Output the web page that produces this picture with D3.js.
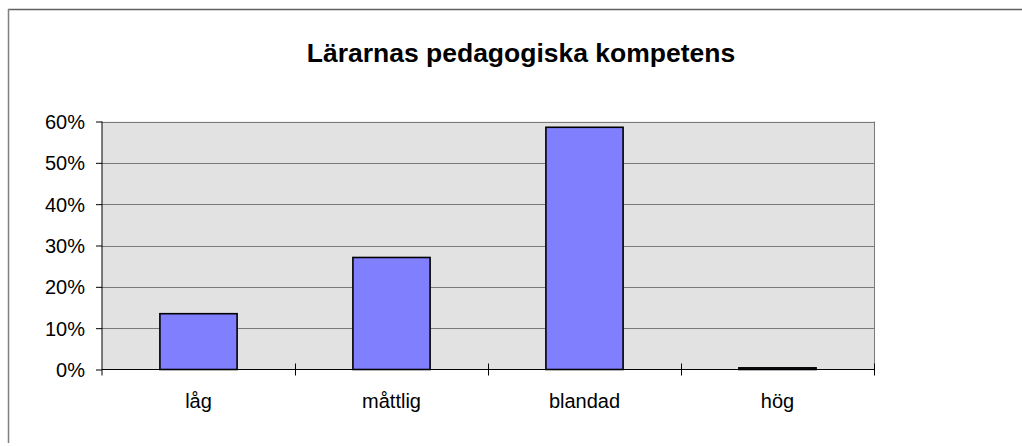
<!DOCTYPE html>
<html>
<head>
<meta charset="utf-8">
<script src="https://cdn.jsdelivr.net/npm/d3@7"></script>
<style>
  html, body { margin: 0; padding: 0; background: #fff; }
  svg { display: block; }
  text { font-family: "Liberation Sans", Arial, sans-serif; fill: #000; }
</style>
</head>
<body>
<svg id="chart" width="1022" height="446"></svg>
<script>
const titleText = "Lärarnas pedagogiska kompetens";
const categories = ["låg", "måttlig", "blandad", "hög"];
const values = [0.135, 0.271, 0.586, 0.004];
const yTicks = [0, 0.1, 0.2, 0.3, 0.4, 0.5, 0.6];

const svg = d3.select("#chart");
const plot = { left: 102, right: 874, top: 121.5, bottom: 369.5 };

// outer chart border (top and left visible)
svg.append("line").attr("x1", 8).attr("x2", 1022).attr("y1", 9.5).attr("y2", 9.5)
  .attr("stroke", "#606060").attr("stroke-width", 1.5);
svg.append("line").attr("x1", 8.5).attr("x2", 8.5).attr("y1", 9).attr("y2", 443)
  .attr("stroke", "#808080").attr("stroke-width", 1.5);

// title
svg.append("text")
  .attr("x", 521).attr("y", 61.5)
  .attr("text-anchor", "middle")
  .attr("font-size", "26.5px")
  .attr("font-weight", "bold")
  .text(titleText);

const x = d3.scaleBand().domain(categories).range([plot.left, plot.right]).paddingInner(0).paddingOuter(0);
const y = d3.scaleLinear().domain([0, 0.6]).range([plot.bottom, plot.top]);

// plot background
svg.append("rect")
  .attr("x", plot.left).attr("y", plot.top)
  .attr("width", plot.right - plot.left).attr("height", plot.bottom - plot.top)
  .attr("fill", "#e2e2e2");

// gridlines
svg.append("g").selectAll("line").data(yTicks.filter(d => d > 0)).join("line")
  .attr("x1", plot.left).attr("x2", plot.right)
  .attr("y1", d => Math.round(y(d)) + 0.5).attr("y2", d => Math.round(y(d)) + 0.5)
  .attr("stroke", "#7a7a7a").attr("stroke-width", 1);

// right border of plot
svg.append("line").attr("x1", plot.right + 0.5).attr("x2", plot.right + 0.5)
  .attr("y1", plot.top).attr("y2", plot.bottom)
  .attr("stroke", "#7a7a7a").attr("stroke-width", 1);

// bars
const barW = x.bandwidth() / 2.5;
svg.append("g").selectAll("rect").data(values).join("rect")
  .attr("x", (d, i) => x(categories[i]) + (x.bandwidth() - barW) / 2)
  .attr("y", d => y(d))
  .attr("width", barW)
  .attr("height", d => y(0) - y(d))
  .attr("fill", "#8080ff")
  .attr("stroke", "#000")
  .attr("stroke-width", 1.6);

// y axis
const yAxis = d3.axisLeft(y).tickValues(yTicks).tickFormat(d3.format(".0%")).tickSizeInner(6).tickSizeOuter(0).tickPadding(11);
const gy = svg.append("g").attr("transform", `translate(${plot.left},0)`).call(yAxis);
gy.select(".domain").remove();
gy.selectAll(".tick line").attr("stroke", "#000");
gy.selectAll(".tick text").attr("font-size", "20px").attr("dy", "0.35em")
  .style("font-family", '"Liberation Sans", Arial, sans-serif');
svg.append("line").attr("x1", plot.left).attr("x2", plot.left)
  .attr("y1", plot.top).attr("y2", plot.bottom + 6)
  .attr("stroke", "#000").attr("stroke-width", 1);

// x axis
svg.append("line").attr("x1", plot.left).attr("x2", plot.right + 1)
  .attr("y1", plot.bottom).attr("y2", plot.bottom)
  .attr("stroke", "#000").attr("stroke-width", 1.2);
const boundaries = categories.map(c => x(c)).concat([plot.right]);
svg.append("g").selectAll("line").data(boundaries.slice(1)).join("line")
  .attr("x1", d => Math.round(d) + 0.5).attr("x2", d => Math.round(d) + 0.5)
  .attr("y1", plot.bottom - 6).attr("y2", plot.bottom + 6)
  .attr("stroke", "#000").attr("stroke-width", 1);

svg.append("g").selectAll("text").data(categories).join("text")
  .attr("x", d => x(d) + x.bandwidth() / 2)
  .attr("y", 407.5)
  .attr("text-anchor", "middle")
  .attr("font-size", "20px")
  .text(d => d);
</script>
</body>
</html>
